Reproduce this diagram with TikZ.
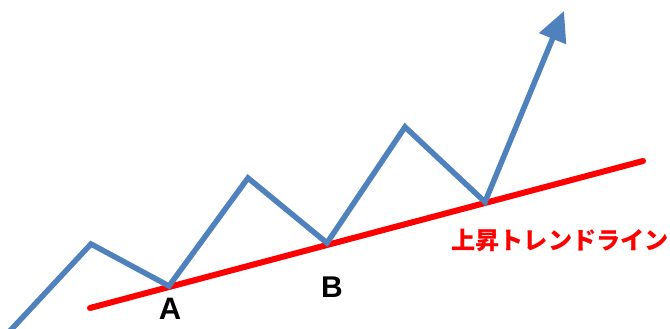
\documentclass[tikz,border=0pt]{standalone}
\usepackage{fontspec}
\setmainfont{Liberation Sans}
\newfontfamily\jpfont{Noto Sans CJK JP}
\usetikzlibrary{arrows.meta}
\definecolor{trendblue}{HTML}{4F81BD}
\definecolor{trendred}{HTML}{FF0000}
\begin{document}
\begin{tikzpicture}[x=1pt, y=1pt]
        \useasboundingbox (0,0) rectangle (670,329);
        % Price points
        \coordinate (P0) at (8,-4);
        \coordinate (P1) at (91,85);
        \coordinate (A) at (169,43);
        \coordinate (P3) at (248,151);
        \coordinate (B) at (327,86);
        \coordinate (P5) at (405,202);
        \coordinate (P6) at (485,127);
        \coordinate (Tip) at (564,318);
        % Trend line ends
        \coordinate (R0) at (90,21);
        \coordinate (R1) at (643,168);

        % Lines
        \draw[trendred, line width=6pt, line cap=round] (R0) -- (R1);
        \draw[trendblue, line width=5.5pt, line join=miter, -{Triangle[length=30pt, width=28pt]}]
            (P0) -- (P1) -- (A) -- (P3) -- (B) -- (P5) -- (P6) -- (Tip);

        % Labels
        \node[font=\fontsize{31}{31}\selectfont\bfseries] (labA) at (170,20) {A};
        \node[font=\fontsize{30}{30}\selectfont\bfseries] (labB) at (332,42) {B};
        \node[font=\jpfont\fontsize{24.2}{24.2}\selectfont\bfseries, text=trendred, anchor=west, inner sep=0pt] (labTrend) at (451,89) {上昇トレンドライン};
    \end{tikzpicture}
\end{document}
